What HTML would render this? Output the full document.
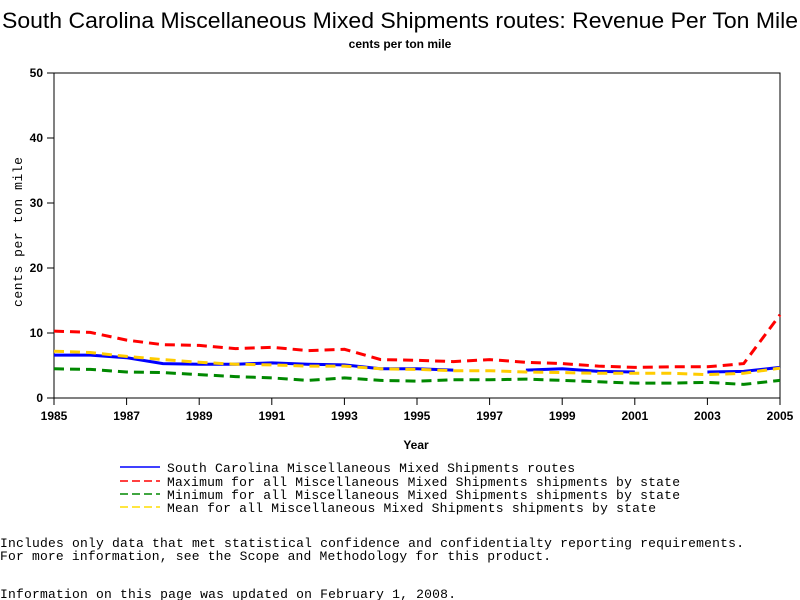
<!DOCTYPE html>
<html><head><meta charset="utf-8"><style>
body{margin:0;background:#fff;width:800px;height:600px;overflow:hidden}
svg{display:block}
.m{font-family:"Liberation Mono",monospace;font-size:13px}
.t{font-family:"Liberation Sans",sans-serif;font-size:12px;font-weight:bold}
</style></head><body>
<svg id="c" width="800" height="600">
<text x="2" y="28" textLength="796" lengthAdjust="spacingAndGlyphs" font-family="Liberation Sans,sans-serif" font-size="22">South Carolina Miscellaneous Mixed Shipments routes: Revenue Per Ton Mile</text>
<text x="400" y="48" text-anchor="middle" class="t" font-size="11">cents per ton mile</text>
<rect x="54" y="73" width="726" height="325" fill="none" stroke="#000" stroke-width="1"/>
<g id="ax"></g>
<g id="series"></g>
<text x="416" y="449" text-anchor="middle" class="t">Year</text>
<text transform="translate(22,232) rotate(-90)" text-anchor="middle" class="m" font-size="12" textLength="150">cents per ton mile</text>
<g>
<line x1="120" y1="467" x2="160" y2="467" stroke="#00f" stroke-width="1.5"/>
<text x="167" y="472" class="m" textLength="408">South Carolina Miscellaneous Mixed Shipments routes</text>
<line x1="120" y1="481" x2="160" y2="481" stroke="#f00" stroke-width="1.5" stroke-dasharray="8,4"/>
<text x="167" y="486" class="m" textLength="513">Maximum for all Miscellaneous Mixed Shipments shipments by state</text>
<line x1="120" y1="494" x2="160" y2="494" stroke="#080" stroke-width="1.5" stroke-dasharray="8,4"/>
<text x="167" y="499" class="m" textLength="513">Minimum for all Miscellaneous Mixed Shipments shipments by state</text>
<line x1="120" y1="507" x2="160" y2="507" stroke="#fd0" stroke-width="1.5" stroke-dasharray="8,4"/>
<text x="167" y="512" class="m" textLength="489">Mean for all Miscellaneous Mixed Shipments shipments by state</text>
</g>
<text x="0" y="547" class="m" textLength="744">Includes only data that met statistical confidence and confidentialty reporting requirements.</text>
<text x="0" y="560" class="m" textLength="551">For more information, see the Scope and Methodology for this product.</text>
<text x="0" y="598" class="m" textLength="456">Information on this page was updated on February 1, 2008.</text>
</svg>
<script>
const years=[1985,1986,1987,1988,1989,1990,1991,1992,1993,1994,1995,1996,1997,1998,1999,2000,2001,2002,2003,2004,2005];
const scVals=[6.6,6.6,6.2,5.3,5.2,5.2,5.4,5.2,5.1,4.5,4.5,4.3,null,4.3,4.5,4.1,4.0,null,4.0,4.1,4.7];
const maxVals=[10.3,10.1,8.9,8.2,8.1,7.6,7.8,7.3,7.5,5.9,5.8,5.6,5.9,5.5,5.3,4.9,4.7,4.8,4.8,5.3,12.8];
const minVals=[4.5,4.4,4.0,3.9,3.6,3.3,3.1,2.7,3.1,2.7,2.6,2.8,2.8,2.9,2.7,2.5,2.3,2.3,2.4,2.1,2.7];
const meanVals=[7.2,7.0,6.4,5.9,5.5,5.2,5.1,4.9,4.9,4.5,4.4,4.2,4.2,4.0,3.9,3.8,3.8,3.8,3.6,3.8,4.6];
const xTicks=[1985,1987,1989,1991,1993,1995,1997,1999,2001,2003,2005];
const yTicks=[0,10,20,30,40,50];
const NS='http://www.w3.org/2000/svg';
const X=y=>54+(y-1985)*(726/20);
const Y=v=>398-v*6.5;
const ax=document.getElementById('ax');
xTicks.forEach(t=>{
 const l=document.createElementNS(NS,'line');
 l.setAttribute('x1',X(t));l.setAttribute('x2',X(t));l.setAttribute('y1',398);l.setAttribute('y2',405);l.setAttribute('stroke','#000');
 
 
 ax.appendChild(l);
 const s=document.createElementNS(NS,'text');
 s.setAttribute('x',X(t));s.setAttribute('y',420);s.setAttribute('text-anchor','middle');s.setAttribute('class','t');s.textContent=t;
 
 
 ax.appendChild(s);
});
yTicks.forEach(t=>{
 const l=document.createElementNS(NS,'line');
 l.setAttribute('x1',47);l.setAttribute('x2',54);l.setAttribute('y1',Y(t));l.setAttribute('y2',Y(t));l.setAttribute('stroke','#000');
 
 
 ax.appendChild(l);
 const s=document.createElementNS(NS,'text');
 s.setAttribute('x',43);s.setAttribute('y',Y(t)+4);s.setAttribute('text-anchor','end');s.setAttribute('class','t');s.textContent=t;
 
 
 ax.appendChild(s);
});
const g=document.getElementById('series');
function draw(vals,color,dash,name){
 let d='',pen=false;
 vals.forEach((v,i)=>{
  if(v==null){pen=false;return;}
  d+=(pen?'L':'M')+X(years[i]).toFixed(1)+','+Y(v).toFixed(1);pen=true;
 });
 const p=document.createElementNS(NS,'path');
 p.setAttribute('d',d);p.setAttribute('fill','none');p.setAttribute('stroke',color);p.setAttribute('stroke-width',3);
 if(dash)p.setAttribute('stroke-dasharray',dash);
 
 
 g.appendChild(p);
}
draw(minVals,'#080','10,6','min-line');
draw(maxVals,'#f00','10,6','max-line');
draw(scVals,'#00f',null,'sc-line');
draw(meanVals,'#fc0','10,6','mean-line');
</script>
</body></html>
